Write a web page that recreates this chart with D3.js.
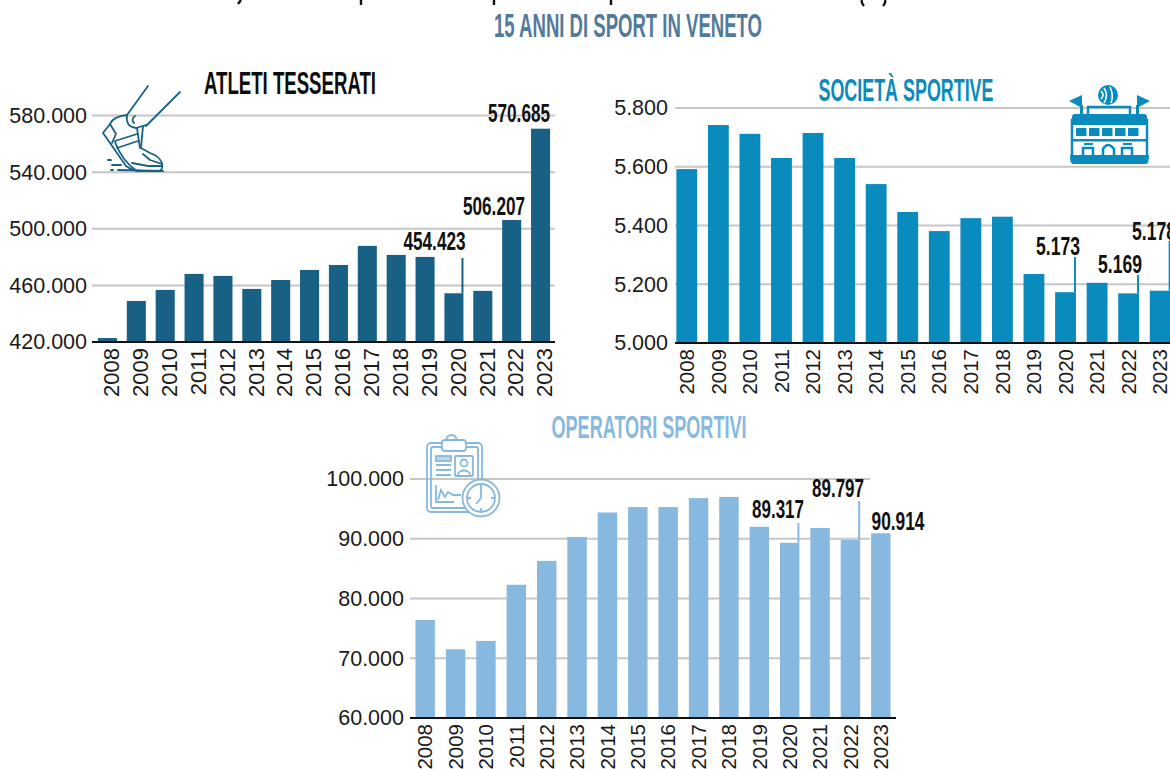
<!DOCTYPE html>
<html><head><meta charset="utf-8">
<script src="https://cdn.jsdelivr.net/npm/d3@7"></script>
<style>
html,body{margin:0;padding:0;background:#fff;overflow:hidden}
svg{display:block}
text{font-family:"Liberation Sans",Arial,sans-serif}
.cond{font-family:"Liberation Sans Narrow","Liberation Sans",sans-serif;font-weight:700}
</style></head><body>
<svg id="c" width="1170" height="769"></svg>
<script>
const years = [2008,2009,2010,2011,2012,2013,2014,2015,2016,2017,2018,2019,2020,2021,2022,2023];
const atleti = [422800,449000,456800,468100,466700,457500,463800,470900,474400,487900,481500,480100,454423,456100,506207,570685];
const societa = [5592,5742,5712,5630,5715,5630,5541,5446,5381,5425,5430,5235,5173,5205,5169,5178];
const operatori = [76400,71500,72900,82300,86300,90300,94400,95300,95300,96800,97000,92000,89317,91800,89797,90914];
const atletiTicks = [420000,460000,500000,540000,580000];
const societaTicks = [5000,5200,5400,5600,5800];
const operatoriTicks = [60000,70000,80000,90000,100000];
const itFmt = v => d3.format(",")(v).replace(/,/g,".");

const svg = d3.select("#c");

function panel(o){
  const g = svg.append("g");
  const x = d3.scaleBand().domain(years).range([o.x0,o.x1]).paddingInner(o.pad).paddingOuter(o.pad/2);
  const y = d3.scaleLinear().domain(o.domain).range([o.yb,o.yt]);
  const yAxis = d3.axisLeft(y).tickValues(o.ticks).tickFormat(itFmt).tickSize(0).tickPadding(o.tickPad);
  const ya = g.append("g").attr("transform",`translate(${o.x0},0)`).call(yAxis);
  ya.select(".domain").remove();
  ya.selectAll("text").attr("font-size",21.5).attr("fill","#1a1a1a").style("font-family",'"Liberation Sans",Arial,sans-serif');
  g.selectAll(".grid").data(o.ticks.slice(1)).enter().append("line")
    .attr("x1",o.gx0).attr("x2",o.gx1).attr("y1",d=>y(d)).attr("y2",d=>y(d))
    .attr("stroke","#c6c6c6").attr("stroke-width",2);
  g.selectAll(".bar").data(o.values).enter().append("rect")
    .attr("x",(d,i)=>x(years[i])).attr("width",x.bandwidth())
    .attr("y",d=>y(d)).attr("height",d=>o.yb-y(d)).attr("fill",o.color);
  g.append("line").attr("x1",o.gx0).attr("x2",o.ax1).attr("y1",o.yb).attr("y2",o.yb).attr("stroke","#111").attr("stroke-width",2);
  const xa = g.append("g").attr("transform",`translate(0,${o.yb})`).call(d3.axisBottom(x).tickSize(0).tickPadding(0));
  xa.select(".domain").remove();
  xa.selectAll("text").attr("font-size",o.yearSize).attr("fill","#1a1a1a")
    .style("font-family",'"Liberation Sans",Arial,sans-serif')
    .attr("text-anchor","end").attr("dy",null)
    .attr("transform",`translate(${o.yearDx},6) rotate(-90)`).attr("y",0).attr("dy","0.35em");
  o.labels.forEach(l=>{
    const i = years.indexOf(l.year), v = o.values[i];
    if(l.lead!=null){
      g.append("line").attr("x1",x(l.year)+x.bandwidth()-1).attr("x2",x(l.year)+x.bandwidth()-1)
       .attr("y1",y(v)).attr("y2",l.lead).attr("stroke",o.color).attr("stroke-width",2);
    }
    g.append("text").attr("class","cond").attr("x",l.x).attr("y",l.y).attr("text-anchor","middle")
      .attr("font-size",25).attr("fill","#111").attr("textLength",l.w).attr("lengthAdjust","spacingAndGlyphs")
      .text(itFmt(v));
  });
}

panel({x0:93,x1:555,yb:342,yt:115.5,domain:[420000,580000],ticks:atletiTicks,values:atleti,color:"#186185",pad:0.34,
  gx0:92,gx1:555,ax1:555,tickPad:6,yearDx:4,yearSize:22,
  labels:[{year:2020,x:434.5,y:250,w:62,lead:258},{year:2022,x:494,y:215,w:62},{year:2023,x:519,y:122,w:62}]});
panel({x0:671,x1:1176,yb:343,yt:108,domain:[5000,5800],ticks:societaTicks,values:societa,color:"#0a8bbd",pad:0.34,
  gx0:675,gx1:1170,ax1:1170,tickPad:3,yearDx:0,yearSize:20.5,
  labels:[{year:2020,x:1058,y:255,w:44,lead:257},{year:2022,x:1120,y:273,w:44,lead:275},{year:2023,x:1154,y:240,w:44,lead:241}]});
panel({x0:410,x1:896,yb:718,yt:479,domain:[60000,100000],ticks:operatoriTicks,values:operatori,color:"#87b9e0",pad:0.36,
  gx0:410,gx1:870,ax1:896,tickPad:6,yearDx:0,yearSize:20.5,
  labels:[{year:2020,x:778,y:518,w:52,lead:523},{year:2022,x:838,y:497,w:52,lead:501},{year:2023,x:898,y:530,w:53}]});

function title(t,cx,y,w,size,col){
  svg.append("text").attr("class","cond").attr("x",cx).attr("y",y).attr("text-anchor","middle")
    .attr("font-size",size).attr("fill",col).attr("textLength",w).attr("lengthAdjust","spacingAndGlyphs").text(t);
}
title("15 ANNI DI SPORT IN VENETO",628,37,268,33,"#517a9c");
title("ATLETI TESSERATI",290,94,172,31,"#0d0d0d");
title("SOCIETÀ SPORTIVE",906,101,175,31,"#0a8bbd");
title("OPERATORI SPORTIVI",649,438,195,31,"#87b9e0");

// slivers of a headline cropped off by the top edge of the picture
svg.append("path").attr("fill","none").attr("stroke","#111").attr("stroke-width",2.4)
  .attr("d","M241,0 L238,4 M361,0 V5 M494,0 V5 M611,0 V5 M862,0 Q861,3 864,6 M885,0 Q886,3 883,6");

const shoe = svg.append("g").attr("fill","none").attr("stroke","#186185").attr("stroke-width",1.8).attr("stroke-linejoin","round").attr("stroke-linecap","round");
["M148,86 L127,115","M180,92 L146,126",
 "M127,115 C118,116 112,119 110,124 L103,133 L110,143 L126,166 C130,169 134,171 140,171 L158,171 C162,171 163,167 162,163 C160,158 156,155 150,153 L141,148 L143,126",
 "M127,115 C126,122 128,127 136,128 L146,125 L143,126",
 "M110,124 L116,134 L112,143","M115,142 C120,155 126,164 137,171","M115,141 L137,134","M117,148 L138,141",
 "M137,128 L140,148","M143,154 L150,160 L162,164","M132,163 L148,166 L162,166","M135,116 C132,118 132,121 134,123",
 "M108,160 L111,160","M112,165 L121,165","M111,170 L113,170","M118,170 L163,171"
].forEach(d=>shoe.append("path").attr("d",d));

const st = svg.append("g").attr("fill","#0a8bbd");
st.append("circle").attr("cx",1108).attr("cy",95).attr("r",10);
st.append("path").attr("d","M1104,88 Q1109,95 1104,103 M1110,87 Q1114,95 1111,103 M1101,91 Q1105,95 1101,99").attr("fill","none").attr("stroke","#fff").attr("stroke-width",1.6);
st.append("path").attr("d","M1082,95 L1082,108 L1069,101 Z M1137,95 L1137,108 L1150,101 Z");
st.append("rect").attr("x",1080).attr("y",105).attr("width",3).attr("height",12);
st.append("rect").attr("x",1136).attr("y",105).attr("width",3).attr("height",12);
st.append("path").attr("d","M1088,117 V107 H1130 V117").attr("fill","none").attr("stroke","#0a8bbd").attr("stroke-width",2.5);
st.append("path").attr("d","M1072,117 Q1072,114 1075,114 H1144 Q1147,114 1147,117 V125 H1072 Z");
st.append("rect").attr("x",1072).attr("y",120).attr("width",75).attr("height",37).attr("fill","none").attr("stroke","#0a8bbd").attr("stroke-width",2.5);
[1075,1088,1101,1114,1127].forEach(px=>st.append("rect").attr("x",px+1).attr("y",128).attr("width",10.5).attr("height",8));
st.append("rect").attr("x",1072).attr("y",139).attr("width",75).attr("height",2.5);
st.append("path").attr("d","M1070,155 H1149 Q1149,164 1146,164 H1073 Q1070,164 1070,155 Z");
st.append("path").attr("d","M1083,156 V148 H1093 V156 M1122,156 V148 H1132 V156 M1103,156 V149 Q1108,141 1114,149 V156").attr("fill","none").attr("stroke","#0a8bbd").attr("stroke-width",2.5);
st.append("rect").attr("x",1084).attr("y",143).attr("width",9).attr("height",2);
st.append("rect").attr("x",1123).attr("y",143).attr("width",9).attr("height",2);

const cl = svg.append("g").attr("fill","none").attr("stroke","#87b9e0").attr("stroke-width",1.8);
cl.append("rect").attr("x",427).attr("y",443).attr("width",55).attr("height",69).attr("rx",4);
cl.append("rect").attr("x",431).attr("y",447).attr("width",47).attr("height",61).attr("rx",2);
cl.append("path").attr("d","M446,441 C447,433 456,433 457,441");
cl.append("rect").attr("x",442).attr("y",440).attr("width",24).attr("height",11).attr("rx",3).attr("fill","#fff");
cl.append("rect").attr("x",436).attr("y",456).attr("width",15).attr("height",5).attr("fill","#bcd8ee");
cl.append("path").attr("d","M436,465 H451 M436,470 H451 M436,475 H451");
cl.append("rect").attr("x",455).attr("y",456).attr("width",18).attr("height",20).attr("rx",1);
cl.append("circle").attr("cx",464).attr("cy",463).attr("r",3.5);
cl.append("path").attr("d","M458,475 C458,469 470,469 470,475");
cl.append("path").attr("d","M436,485 V502 H454 M438,500 L441,490 L445,497 L448,492 L453,495 L461,495");
cl.append("circle").attr("cx",481).attr("cy",498).attr("r",18.5).attr("fill","#fff");
cl.append("circle").attr("cx",481).attr("cy",498).attr("r",14);
cl.append("path").attr("d","M481,488 V498 L476,504 M481,485 V488 M481,508 V511 M468,498 H471 M491,498 H494");
</script>
</body></html>
